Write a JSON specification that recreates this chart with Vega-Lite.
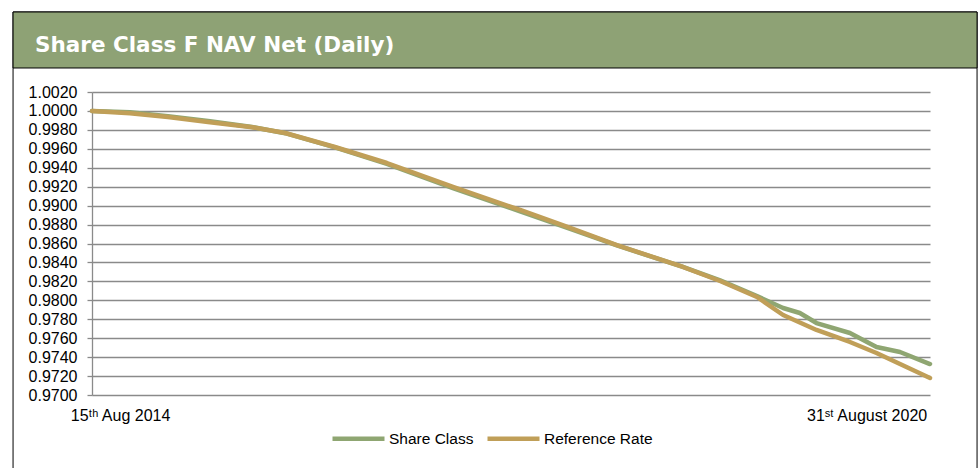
{
  "$schema": "https://vega.github.io/schema/vega-lite/v6.json",
  "width": 838,
  "height": 303,
  "autosize": {"type": "none"},
  "padding": {"left": 92, "top": 92, "right": 50, "bottom": 73},
  "background": "white",
  "title": {
    "text": "Share Class F NAV Net (Daily)",
    "anchor": "start",
    "frame": "group",
    "dx": -57,
    "offset": -62,
    "baseline": "alphabetic",
    "color": "white",
    "font": "DejaVu Sans",
    "fontSize": 21.5,
    "fontWeight": "bold"
  },
  "layer": [
    {
      "data": {"values": [{}]},
      "mark": {"type": "rect", "fill": "transparent", "stroke": "black", "strokeWidth": 1},
      "encoding": {
        "x": {"datum": {"year": 2014, "month": 1, "date": 19, "utc": true}, "type": "temporal"},
        "x2": {"datum": {"year": 2021, "month": 1, "date": 2, "utc": true}},
        "y": {"datum": 1.010449, "type": "quantitative"},
        "y2": {"datum": 0.96155}
      }
    },
    {
      "data": {"values": [{}]},
      "mark": {"type": "rect", "fill": "#8ea275", "stroke": "black", "strokeWidth": 1},
      "encoding": {
        "x": {"datum": {"year": 2014, "month": 1, "date": 19, "utc": true}, "type": "temporal"},
        "x2": {"datum": {"year": 2021, "month": 1, "date": 2, "utc": true}},
        "y": {"datum": 1.010449, "type": "quantitative"},
        "y2": {"datum": 1.004535}
      }
    },
    {
      "data": {
        "values": [
          {"date": "2014-08-15", "series": "Share Class", "value": 1.0000},
          {"date": "2014-11-23", "series": "Share Class", "value": 0.99985},
          {"date": "2015-03-03", "series": "Share Class", "value": 0.99945},
          {"date": "2015-06-22", "series": "Share Class", "value": 0.99890},
          {"date": "2015-10-11", "series": "Share Class", "value": 0.99830},
          {"date": "2016-01-06", "series": "Share Class", "value": 0.99765},
          {"date": "2016-05-16", "series": "Share Class", "value": 0.99615},
          {"date": "2016-09-30", "series": "Share Class", "value": 0.99440},
          {"date": "2017-03-23", "series": "Share Class", "value": 0.99185},
          {"date": "2017-09-16", "series": "Share Class", "value": 0.98940},
          {"date": "2018-01-26", "series": "Share Class", "value": 0.98755},
          {"date": "2018-05-29", "series": "Share Class", "value": 0.98580},
          {"date": "2018-11-19", "series": "Share Class", "value": 0.98352},
          {"date": "2019-02-25", "series": "Share Class", "value": 0.98210},
          {"date": "2019-06-02", "series": "Share Class", "value": 0.98045},
          {"date": "2019-08-10", "series": "Share Class", "value": 0.97919},
          {"date": "2019-09-23", "series": "Share Class", "value": 0.97866},
          {"date": "2019-11-06", "series": "Share Class", "value": 0.97760},
          {"date": "2020-02-02", "series": "Share Class", "value": 0.97655},
          {"date": "2020-04-12", "series": "Share Class", "value": 0.97507},
          {"date": "2020-06-13", "series": "Share Class", "value": 0.97454},
          {"date": "2020-08-31", "series": "Share Class", "value": 0.97327},
          {"date": "2014-08-15", "series": "Reference Rate", "value": 1.0000},
          {"date": "2014-11-23", "series": "Reference Rate", "value": 0.99975},
          {"date": "2015-03-03", "series": "Reference Rate", "value": 0.99935},
          {"date": "2015-06-22", "series": "Reference Rate", "value": 0.99880},
          {"date": "2015-10-11", "series": "Reference Rate", "value": 0.99828},
          {"date": "2016-01-06", "series": "Reference Rate", "value": 0.99767},
          {"date": "2016-05-16", "series": "Reference Rate", "value": 0.99619},
          {"date": "2016-09-30", "series": "Reference Rate", "value": 0.99450},
          {"date": "2017-03-23", "series": "Reference Rate", "value": 0.99197},
          {"date": "2017-09-16", "series": "Reference Rate", "value": 0.98954},
          {"date": "2018-01-26", "series": "Reference Rate", "value": 0.98764},
          {"date": "2018-05-29", "series": "Reference Rate", "value": 0.98584},
          {"date": "2018-11-19", "series": "Reference Rate", "value": 0.98352},
          {"date": "2019-02-25", "series": "Reference Rate", "value": 0.98204},
          {"date": "2019-06-02", "series": "Reference Rate", "value": 0.98035},
          {"date": "2019-08-10", "series": "Reference Rate", "value": 0.97845},
          {"date": "2019-11-06", "series": "Reference Rate", "value": 0.97687},
          {"date": "2020-02-02", "series": "Reference Rate", "value": 0.97560},
          {"date": "2020-04-12", "series": "Reference Rate", "value": 0.97444},
          {"date": "2020-06-13", "series": "Reference Rate", "value": 0.97327},
          {"date": "2020-08-31", "series": "Reference Rate", "value": 0.97180}
        ]
      },
      "encoding": {
        "x": {
          "field": "date",
          "type": "temporal",
          "scale": {"domain": [{"year": 2014, "month": 8, "date": 15, "utc": true}, {"year": 2020, "month": 8, "date": 31, "utc": true}]},
          "axis": {
            "title": null,
            "grid": false,
            "domain": false,
            "ticks": false,
            "tickSize": 0,
            "labelPadding": 12,
            "labelOverlap": false,
            "values": [{"year": 2014, "month": 10, "date": 28, "utc": true}, {"year": 2020, "month": 3, "date": 17, "utc": true}],
            "labelExpr": "utcyear(datum.value) < 2017 ? '15ᵗʰ Aug 2014' : '31ˢᵗ August 2020'",
            "labelAlign": "center",
            "labelFont": "Liberation Sans",
            "labelFontSize": 16,
            "labelColor": "black"
          }
        },
        "y": {
          "field": "value",
          "type": "quantitative",
          "scale": {"domain": [0.97, 1.002], "zero": false, "nice": false},
          "axis": {
            "title": null,
            "values": [0.970, 0.972, 0.974, 0.976, 0.978, 0.980, 0.982, 0.984, 0.986, 0.988, 0.990, 0.992, 0.994, 0.996, 0.998, 1.000, 1.002],
            "tickCount": 40,
            "format": ".4f",
            "labelOverlap": false,
            "labelBound": false,
            "grid": true,
            "gridColor": "#8a8a8a",
            "gridWidth": 1.3,
            "domainColor": "#8a8a8a",
            "domainWidth": 1.3,
            "tickColor": "#8a8a8a",
            "tickWidth": 1.3,
            "tickSize": 5,
            "labelPadding": 10,
            "labelFont": "Liberation Sans",
            "labelFontSize": 16,
            "labelColor": "black"
          }
        },
        "color": {
          "field": "series",
          "type": "nominal",
          "scale": {"domain": ["Share Class", "Reference Rate"], "range": ["#8fa672", "#c09f58"]},
          "legend": {
            "orient": "none",
            "legendX": 238,
            "legendY": 318,
            "direction": "horizontal",
            "title": null,
            "symbolType": "stroke",
            "symbolSize": 2704,
            "symbolStrokeWidth": 4.5,
            "labelFont": "Liberation Sans",
            "labelFontSize": 15.5,
            "labelColor": "black",
            "labelOffset": 2,
            "columnPadding": 4,
            "padding": 0
          }
        }
      },
      "layer": [
        {
          "transform": [{"filter": "datum.series == 'Share Class'"}],
          "mark": {"type": "line", "strokeWidth": 4.5, "strokeCap": "round", "strokeJoin": "round"}
        },
        {
          "transform": [{"filter": "datum.series == 'Reference Rate'"}],
          "mark": {"type": "line", "strokeWidth": 4.5, "strokeCap": "round", "strokeJoin": "round"}
        }
      ]
    }
  ],
  "config": {"view": {"stroke": null}}
}
